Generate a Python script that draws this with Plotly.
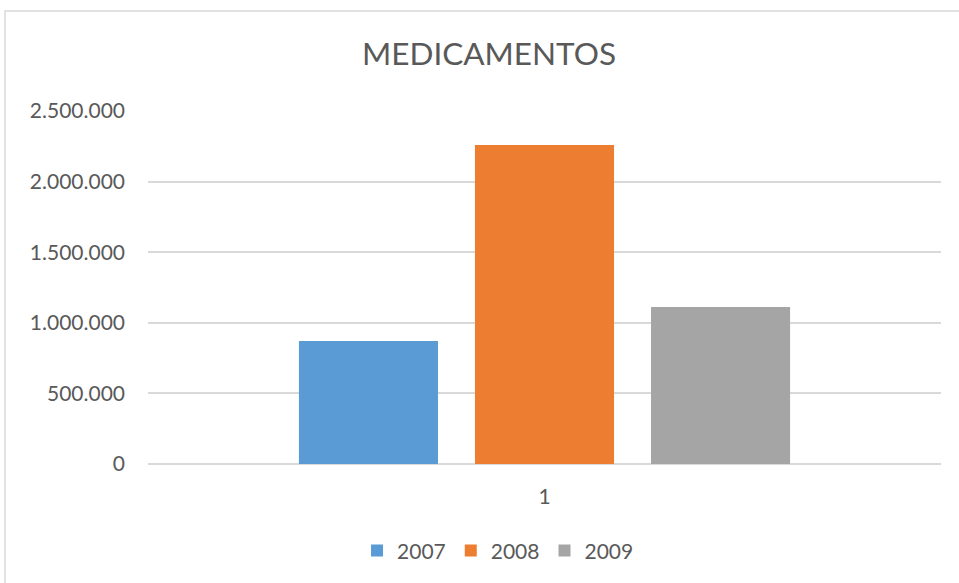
import plotly.graph_objects as go

categories = ["1"]
series_names = ["2007", "2008", "2009"]
series_values = [[871000], [2259000], [1112000]]
colors = ["#5B9BD5", "#ED7D31", "#A5A5A5"]
y_ticks = [0, 500000, 1000000, 1500000, 2000000, 2500000]
y_tick_labels = ["0", "500.000", "1.000.000", "1.500.000", "2.000.000", "2.500.000"]

font_family = "Lato, 'Open Sans', sans-serif"
text_color = "#595959"

fig = go.Figure()
for name, vals, col in zip(series_names, series_values, colors):
    fig.add_trace(go.Bar(
        x=categories,
        y=vals,
        name=name,
        marker=dict(color=col, line=dict(width=0)),
        hoverinfo="x+y+name"
    ))

# light border around the chart area (cut off at right/bottom, like the reference)
fig.add_shape(
    type="rect", xref="paper", yref="paper",
    x0=-0.1803, y0=-0.6, x1=1.2, y1=1.2833,
    line=dict(color="#D9D9D9", width=1.5),
    fillcolor="rgba(0,0,0,0)", layer="below"
)

fig.update_layout(
    width=959,
    height=583,
    margin=dict(l=148, r=18, t=111, b=119, autoexpand=False),
    paper_bgcolor="white",
    plot_bgcolor="white",
    font=dict(family=font_family, color=text_color, size=21),
    title=dict(
        text="MEDICAMENTOS",
        x=489 / 959, xref="container", xanchor="center",
        y=1 - 53.5 / 583, yref="container", yanchor="middle",
        font=dict(size=31.5, color=text_color, family=font_family)
    ),
    barmode="group",
    bargap=0.334,
    bargroupgap=0.21,
    showlegend=True,
    legend=dict(
        orientation="h",
        x=0.4414, xanchor="center",
        y=-0.246, yanchor="middle",
        font=dict(size=21, color=text_color),
        itemwidth=30,
        traceorder="normal"
    ),
    xaxis=dict(
        type="category",
        showgrid=False,
        showline=False,
        zeroline=False,
        ticks="",
        ticklabelstandoff=18,
        tickfont=dict(size=21, color=text_color)
    ),
    yaxis=dict(
        range=[0, 2500000],
        tickvals=y_ticks,
        ticktext=y_tick_labels,
        showgrid=True,
        gridcolor="#D9D9D9",
        gridwidth=1.5,
        zeroline=True,
        zerolinecolor="#D9D9D9",
        zerolinewidth=1.5,
        showline=False,
        ticks="",
        ticklabelstandoff=22,
        tickfont=dict(size=21, color=text_color)
    )
)

# drop the default page margin so the figure sits at the window's corner
fig.write_html(
    "out.html",
    config={"displayModeBar": False},
    post_script="document.body.style.margin='0';"
)
